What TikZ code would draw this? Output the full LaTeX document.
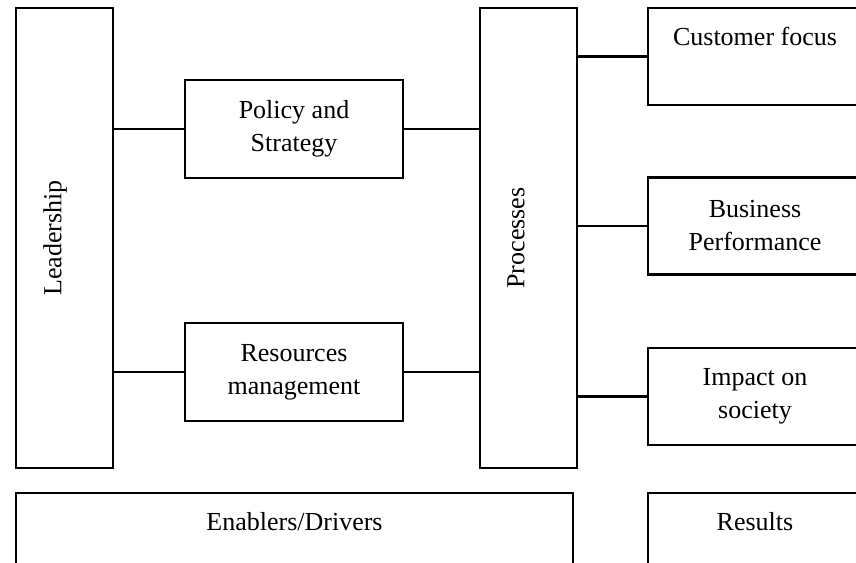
\documentclass[tikz,border=0pt]{standalone}
\usepackage{fontspec}
\setmainfont{Liberation Serif}
\usetikzlibrary{positioning}

\begin{document}
\begin{tikzpicture}[x=1pt, y=-1pt,
     every node/.style = {font=\fontsize{26}{33}\selectfont},
           box/.style = {rectangle, draw, line width=2.5pt, inner sep=0pt, align=center},
          tall/.style = {box, minimum width=97pt, minimum height=460pt},
          wide/.style = {box, minimum width=218pt, minimum height=98pt},
        result/.style = {box, minimum width=214pt, minimum height=97pt},
          link/.style = {line width=2.5pt}
                    ]
\useasboundingbox (0,0) rectangle (856,562);
\clip (0,0) rectangle (856,562);
% enablers
\node (lead) [tall] at (64.5,238) {};
\node [rotate=90] at (55,238) {Leadership};
\node (pol) [wide] at (294,129) {Policy and\\Strategy};
\node (res) [wide] at (294,372) {Resources\\management};
\node (proc) [tall] at (528.5,238) {};
\node [rotate=90] at (516,238) {Processes};
% results
\node (cust) [result] at (755,56.5) {};
\node [anchor=base] at ([yshift=-39pt]cust.north) {Customer focus};
\node (bus) [result] at (755,226) {Business\\Performance};
\node (imp) [result] at (755,396.5) {Impact on\\society};
% bottom row
\node (enab) [box, minimum width=557pt, minimum height=107pt] at (294.5,546.5) {};
\node [anchor=base] at ([yshift=-39pt]enab.north) {Enablers/Drivers};
\node (resl) [box, minimum width=214pt, minimum height=107pt] at (755,546.5) {};
\node [anchor=base] at ([yshift=-39pt]resl.north) {Results};
% links
\draw[link] (lead.east |- pol.west) -- (pol.west);
\draw[link] (lead.east |- res.west) -- (res.west);
\draw[link] (pol.east) -- (proc.west |- pol.east);
\draw[link] (res.east) -- (proc.west |- res.east);
\draw[link] (proc.east |- cust.west) -- (cust.west);
\draw[link] (proc.east |- bus.west) -- (bus.west);
\draw[link] (proc.east |- imp.west) -- (imp.west);
\end{tikzpicture}
\end{document}
